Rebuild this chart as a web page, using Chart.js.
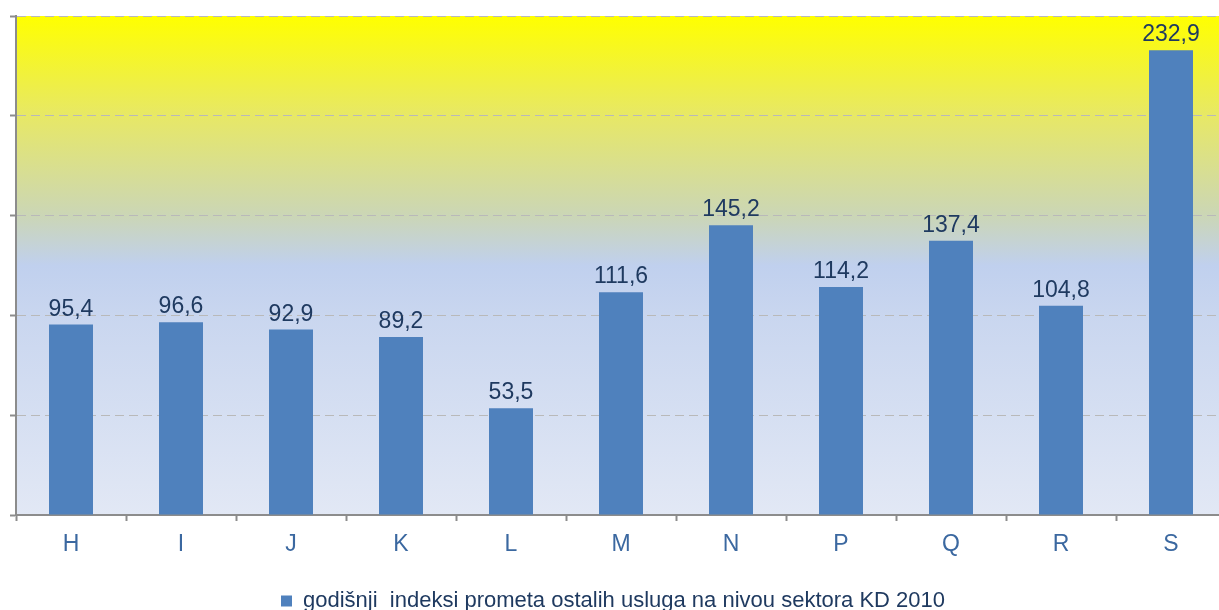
<!DOCTYPE html>
<html>
<head>
<meta charset="utf-8">
<script src="https://cdn.jsdelivr.net/npm/chart.js@4.4.1/dist/chart.umd.min.js"></script>
<style>
  html, body { margin: 0; padding: 0; background: #fff; overflow: hidden; }
  #wrap { width: 1219px; height: 610px; overflow: hidden; position: relative; }
  #sectorChart { display: block; }
</style>
</head>
<body>
<div id="wrap">
  <canvas id="sectorChart" width="1228" height="622"></canvas>
</div>
<script>
// sektori KD 2010
const categories = ['H', 'I', 'J', 'K', 'L', 'M', 'N', 'P', 'Q', 'R', 'S'];
// godisnji indeksi
const values = [95.4, 96.6, 92.9, 89.2, 53.5, 111.6, 145.2, 114.2, 137.4, 104.8, 232.9];
const seriesName = 'godišnji  indeksi prometa ostalih usluga na nivou sektora KD 2010';
const yMax = 250;
const yStep = 50;

const FONT = 'Liberation Sans, Arial, sans-serif';

// gradient pozadina plot area
const bgPlugin = {
  id: 'plotBg',
  beforeDraw(chart) {
    const {ctx, chartArea: a} = chart;
    if (!a) return;
    const g = ctx.createLinearGradient(0, a.top, 0, a.bottom);
    g.addColorStop(0, '#ffff00');
    g.addColorStop(0.2, '#e7e866');
    g.addColorStop(0.4, '#cbd6b6');
    g.addColorStop(0.5, '#c0d0ee');
    g.addColorStop(0.6, '#c9d6ef');
    g.addColorStop(1, '#e2e8f5');
    ctx.save();
    ctx.fillStyle = g;
    ctx.fillRect(a.left, a.top, a.right - a.left, a.bottom - a.top);
    ctx.restore();
  }
};

// vrijednosti iznad stupaca
const labelPlugin = {
  id: 'barValues',
  afterDatasetsDraw(chart) {
    const {ctx} = chart;
    const meta = chart.getDatasetMeta(0);
    ctx.save();
    ctx.font = '23px ' + FONT;
    ctx.fillStyle = '#1f3a60';
    ctx.textAlign = 'center';
    ctx.textBaseline = 'alphabetic';
    meta.data.forEach((bar, i) => {
      const txt = values[i].toFixed(1).replace('.', ',');
      ctx.fillText(txt, bar.x, bar.y - 9);
    });
    ctx.restore();
  }
};

const ctx = document.getElementById('sectorChart').getContext('2d');
new Chart(ctx, {
  type: 'bar',
  data: {
    labels: categories,
    datasets: [{
      label: seriesName,
      data: values,
      backgroundColor: '#4f81bd',
      borderWidth: 0,
      categoryPercentage: 1,
      barPercentage: 0.4
    }]
  },
  options: {
    responsive: false,
    animation: false,
    devicePixelRatio: 1,
    layout: {
      padding: { top: 16, right: 2, left: 0, bottom: 0 }
    },
    scales: {
      y: {
        min: 0,
        max: yMax,
        afterFit: s => { s.width = 16; },
        ticks: { display: false, stepSize: yStep },
        grid: {
          color: '#b9b9b9',
          lineWidth: 1,
          tickLength: 6,
          tickColor: '#8c8c8c',
          tickWidth: 2
        },
        border: { color: '#8c8c8c', width: 2, dash: [9, 5] }
      },
      x: {
        afterFit: s => { s.height = 71; },
        grid: {
          drawOnChartArea: false,
          tickLength: 6,
          tickColor: '#8c8c8c',
          tickWidth: 2
        },
        border: { color: '#8c8c8c', width: 2 },
        ticks: {
          color: '#3b68a0',
          padding: 10,
          font: { family: FONT, size: 23 },
          autoSkip: false,
          maxRotation: 0,
          minRotation: 0
        }
      }
    },
    plugins: {
      legend: {
        position: 'bottom',
        labels: {
          color: '#1f3a60',
          boxWidth: 11,
          boxHeight: 11,
          padding: 4,
          font: { family: FONT, size: 22, lineHeight: 1 }
        }
      },
      tooltip: { enabled: false }
    }
  },
  plugins: [bgPlugin, labelPlugin]
});
</script>
</body>
</html>
